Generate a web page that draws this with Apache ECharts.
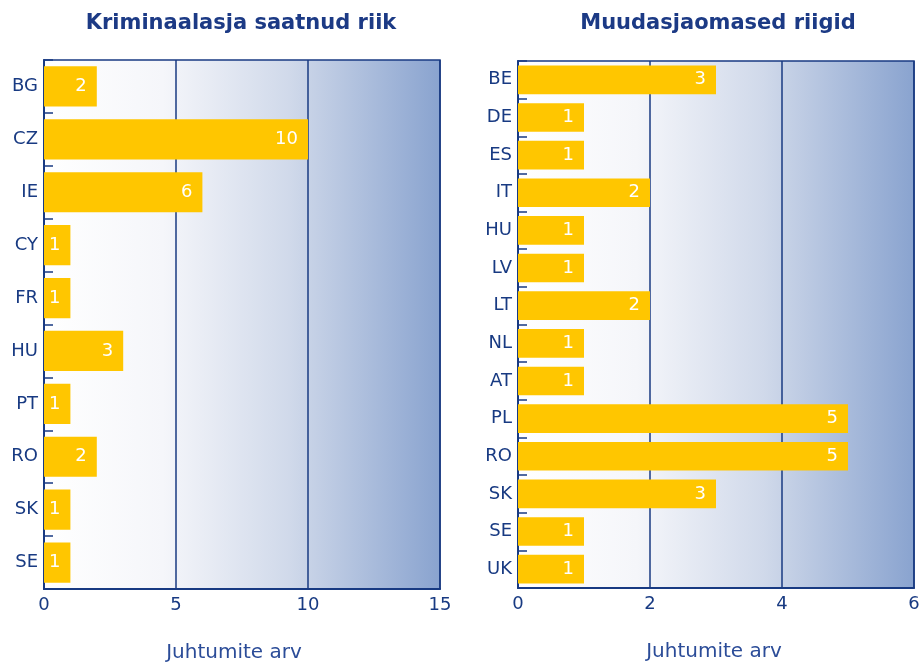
<!DOCTYPE html>
<html>
<head>
<meta charset="utf-8">
<script src="https://cdn.jsdelivr.net/npm/echarts@6/dist/echarts.min.js"></script>
<style>
  html, body { margin: 0; padding: 0; background: #fff; }
  #chart { width: 920px; height: 663px; }
</style>
</head>
<body>
<div id="chart"></div>
<script>
  // vasak paneel
  var leftTitle = 'Kriminaalasja saatnud riik'
  var leftCountries = ['BG', 'CZ', 'IE', 'CY', 'FR', 'HU', 'PT', 'RO', 'SK', 'SE']
  var leftCounts = [2, 10, 6, 1, 1, 3, 1, 2, 1, 1]
  var leftTicks = [0, 5, 10, 15]

  // parem paneel
  var rightTitle = 'Muudasjaomased riigid'
  var rightCountries = ['BE', 'DE', 'ES', 'IT', 'HU', 'LV', 'LT', 'NL', 'AT', 'PL', 'RO', 'SK', 'SE', 'UK']
  var rightCounts = [3, 1, 1, 2, 1, 1, 2, 1, 1, 5, 5, 3, 1, 1]
  var rightTicks = [0, 2, 4, 6]

  var axisName = 'Juhtumite arv'

  var navy = '#183a82'
  var font = 'DejaVu Sans'

  var myChart = echarts.init(document.getElementById('chart'))

  function bg() {
    return new echarts.graphic.LinearGradient(0, 0, 1, 0, [
      { offset: 0, color: '#ffffff' },
      { offset: 0.3, color: '#f5f6fa' },
      { offset: 0.62, color: '#d0d9ea' },
      { offset: 1, color: '#89a3cf' }
    ])
  }

  function xAxis(idx, ticks, namePad) {
    return {
      type: 'value',
      gridIndex: idx,
      min: ticks[0],
      max: ticks[ticks.length - 1],
      interval: ticks[1] - ticks[0],
      name: axisName,
      nameLocation: 'middle',
      nameGap: 54,
      nameTextStyle: { color: '#2b4c98', fontSize: 20, fontFamily: font, padding: [0, namePad, 0, 0] },
      axisLine: { show: true, lineStyle: { color: navy, width: 2 } },
      axisTick: { show: false },
      axisLabel: { color: navy, fontSize: 18, fontFamily: font, margin: 7 },
      splitLine: { show: true, lineStyle: { color: navy, width: 1.5 } }
    }
  }

  function yAxis(idx, cats) {
    return {
      type: 'category',
      gridIndex: idx,
      data: cats,
      inverse: true,
      axisLine: { show: true, lineStyle: { color: navy, width: 2 } },
      axisTick: { show: true, inside: true, length: 9, lineStyle: { color: navy, width: 1.5 } },
      axisLabel: { color: navy, fontSize: 18, fontFamily: font, margin: 6 }
    }
  }

  function bars(idx, vals) {
    return {
      type: 'bar',
      xAxisIndex: idx,
      yAxisIndex: idx,
      data: vals,
      barCategoryGap: '24%',
      itemStyle: { color: '#ffc600' },
      label: {
        show: true,
        position: 'insideRight',
        distance: 10,
        color: '#ffffff',
        fontSize: 18,
        fontFamily: font
      }
    }
  }

  myChart.setOption({
    animation: false,
    title: [
      {
        text: leftTitle, left: 236, top: 8, textAlign: 'center',
        textStyle: { color: '#1c3a85', fontSize: 21, fontWeight: 'bold', fontFamily: font }
      },
      {
        text: rightTitle, left: 713, top: 8, textAlign: 'center',
        textStyle: { color: '#1c3a85', fontSize: 21, fontWeight: 'bold', fontFamily: font }
      }
    ],
    grid: [
      { left: 44, right: 480, top: 60, bottom: 74, outerBoundsMode: 'none', show: true, backgroundColor: bg(), borderColor: navy, borderWidth: 1.5 },
      { left: 518, right: 6, top: 61, bottom: 75, outerBoundsMode: 'none', show: true, backgroundColor: bg(), borderColor: navy, borderWidth: 1.5 }
    ],
    xAxis: [xAxis(0, leftTicks, 16), xAxis(1, rightTicks, 4)],
    yAxis: [yAxis(0, leftCountries), yAxis(1, rightCountries)],
    series: [bars(0, leftCounts), bars(1, rightCounts)]
  })
</script>
</body>
</html>
